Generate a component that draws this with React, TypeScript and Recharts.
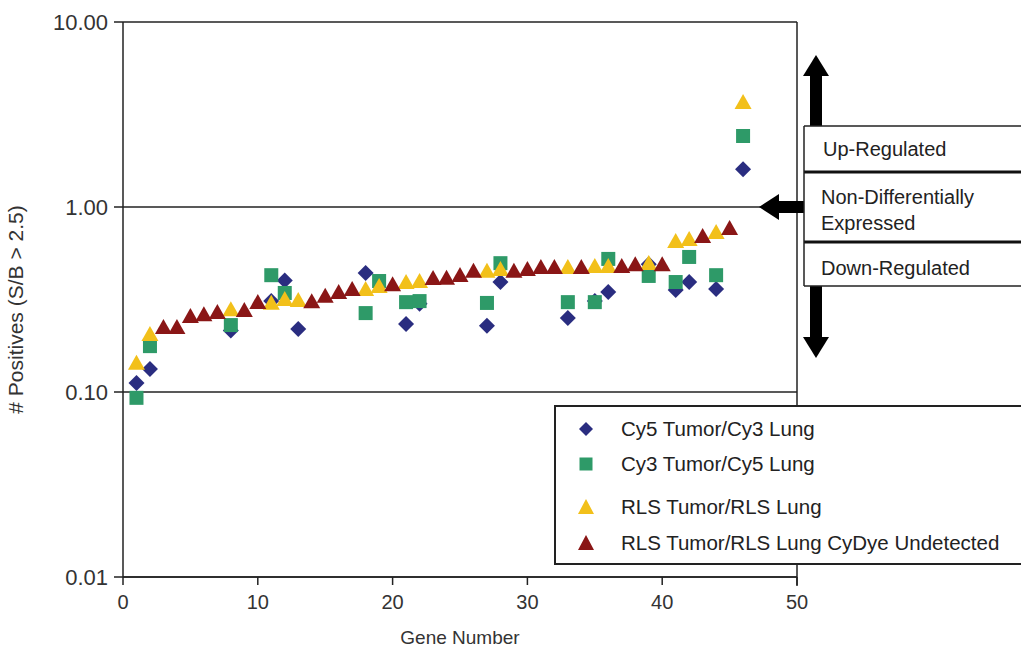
import {
  ScatterChart,
  Scatter,
  XAxis,
  YAxis,
  CartesianGrid,
  ReferenceLine,
  Label,
} from 'recharts'

// gene number / value per series
const cy5Genes = [1, 2, 8, 11, 12, 13, 18, 21, 22, 27, 28, 33, 35, 36, 39, 41, 42, 44, 46]
const cy5Values = [0.112, 0.133, 0.215, 0.31, 0.4, 0.219, 0.44, 0.233, 0.3, 0.228, 0.393, 0.251, 0.31, 0.347, 0.49, 0.356, 0.393, 0.36, 1.6]

const cy3Genes = [1, 2, 8, 11, 12, 18, 19, 21, 22, 27, 28, 33, 35, 36, 39, 41, 42, 44, 46]
const cy3Values = [0.093, 0.177, 0.23, 0.428, 0.343, 0.267, 0.398, 0.306, 0.31, 0.303, 0.497, 0.306, 0.306, 0.524, 0.424, 0.393, 0.537, 0.428, 2.42]

const rlsGenes = [1, 2, 8, 11, 12, 13, 18, 19, 21, 22, 27, 28, 33, 35, 36, 39, 41, 42, 44, 46]
const rlsValues = [0.142, 0.203, 0.277, 0.3, 0.314, 0.31, 0.356, 0.37, 0.388, 0.393, 0.446, 0.456, 0.468, 0.474, 0.474, 0.492, 0.647, 0.664, 0.723, 3.65]

const undetGenes = [3, 4, 5, 6, 7, 9, 10, 14, 15, 16, 17, 20, 23, 24, 25, 26, 29, 30, 31, 32, 34, 37, 38, 40, 43, 45]
const undetValues = [0.222, 0.222, 0.254, 0.26, 0.267, 0.274, 0.303, 0.306, 0.327, 0.343, 0.356, 0.378, 0.408, 0.41, 0.424, 0.446, 0.446, 0.456, 0.468, 0.468, 0.468, 0.474, 0.485, 0.485, 0.689, 0.76]

const xTicks = [0, 10, 20, 30, 40, 50]
const yTicks = [0.01, 0.1, 1, 10]

const NAVY = '#2a2d80'
const GREEN = '#2e9a68'
const YELLOW = '#f2c01a'
const DARKRED = '#8a1616'
const FONT = '"Liberation Sans", Arial, sans-serif'

const toPoints = (xs: number[], ys: number[]) => xs.map((x, i) => ({ gene: x, value: ys[i] }))

const Diamond = ({ cx, cy, fill }: any) => (
  <path d={`M${cx},${cy - 8}L${cx + 8},${cy}L${cx},${cy + 8}L${cx - 8},${cy}Z`} fill={fill} />
)
const Square = ({ cx, cy, fill }: any) => <rect x={cx - 7} y={cy - 7} width={14} height={14} fill={fill} />
const Triangle = ({ cx, cy, fill }: any) => (
  <path d={`M${cx},${cy - 9}L${cx + 8.5},${cy + 6}L${cx - 8.5},${cy + 6}Z`} fill={fill} />
)

const legendItems = [
  { name: 'Cy5 Tumor/Cy3 Lung', color: NAVY, kind: 'diamond', y: 429 },
  { name: 'Cy3 Tumor/Cy5 Lung', color: GREEN, kind: 'square', y: 464 },
  { name: 'RLS Tumor/RLS Lung', color: YELLOW, kind: 'triangle', y: 507 },
  { name: 'RLS Tumor/RLS Lung CyDye Undetected', color: DARKRED, kind: 'triangle', y: 543 },
]

function LegendMarker({ kind, color }: { kind: string; color: string }) {
  return (
    <svg width={20} height={20} style={{ position: 'absolute', left: 20, top: -10 }}>
      {kind === 'diamond' && <path d="M10,3L17,10L10,17L3,10Z" fill={color} />}
      {kind === 'square' && <rect x={3.5} y={3.5} width={13} height={13} fill={color} />}
      {kind === 'triangle' && <path d="M10,2L18,17L2,17Z" fill={color} />}
    </svg>
  )
}

export default function App() {
  return (
    <div style={{ position: 'absolute', left: 0, top: 0, width: 1021, height: 647, background: '#fff', fontFamily: FONT, overflow: 'hidden' }}>
      <ScatterChart width={1021} height={647} margin={{ top: 22, right: 224, bottom: 30, left: 0 }}>
        <CartesianGrid horizontal vertical={false} stroke="#222" strokeWidth={1.5} />
        <XAxis
          type="number"
          dataKey="gene"
          domain={[0, 50]}
          ticks={xTicks}
          allowDataOverflow
          height={40}
          tickSize={8}
          tickMargin={10}
          stroke="#222"
          strokeWidth={1.5}
          tick={{ fill: '#333', fontSize: 20, fontFamily: FONT }}
        >
          <Label value="Gene Number" position="insideBottom" offset={-27} fill="#333" fontSize={19} fontFamily={FONT} />
        </XAxis>
        <YAxis
          type="number"
          dataKey="value"
          scale="log"
          domain={[0.01, 10]}
          ticks={yTicks}
          allowDataOverflow
          width={123}
          tickSize={9}
          tickMargin={6}
          stroke="#222"
          strokeWidth={1.5}
          tickFormatter={(v: number) => v.toFixed(2)}
          tick={{ fill: '#333', fontSize: 22, fontFamily: FONT }}
        >
          <Label
            value="# Positives (S/B > 2.5)"
            angle={-90}
            position="insideLeft"
            offset={16}
            dy={10}
            style={{ textAnchor: 'middle' }}
            fill="#333"
            fontSize={21}
            fontFamily={FONT}
          />
        </YAxis>
        <ReferenceLine x={50} stroke="#222" strokeWidth={1.5} />
        <Scatter data={toPoints(cy5Genes, cy5Values)} fill={NAVY} shape={Diamond} isAnimationActive={false} />
        <Scatter data={toPoints(cy3Genes, cy3Values)} fill={GREEN} shape={Square} isAnimationActive={false} />
        <Scatter data={toPoints(rlsGenes, rlsValues)} fill={YELLOW} shape={Triangle} isAnimationActive={false} />
        <Scatter data={toPoints(undetGenes, undetValues)} fill={DARKRED} shape={Triangle} isAnimationActive={false} />
      </ScatterChart>

      {/* arrows and regulation boxes */}
      <svg width={1021} height={647} style={{ position: 'absolute', left: 0, top: 0, pointerEvents: 'none' }}>
        <line x1={797} y1={577} x2={797} y2={586} stroke="#222" strokeWidth={1.5} />
        <rect x={810} y={72} width={12} height={270} fill="#000" />
        <path d="M816,55L829,76L803,76Z" fill="#000" />
        <path d="M816,358L829,337L803,337Z" fill="#000" />
        <rect x={776} y={201} width={30} height={12} fill="#000" />
        <path d="M759,207L779,194L779,220Z" fill="#000" />
        <rect x={804} y={126} width={230} height={160} fill="#fff" />
        <line x1={804} y1={126} x2={1021} y2={126} stroke="#222" strokeWidth={1.5} />
        <line x1={804} y1={172} x2={1021} y2={172} stroke="#111" strokeWidth={3} />
        <line x1={804} y1={242} x2={1021} y2={242} stroke="#111" strokeWidth={3} />
        <line x1={804} y1={286} x2={1021} y2={286} stroke="#222" strokeWidth={1.5} />
        <line x1={804} y1={126} x2={804} y2={286} stroke="#222" strokeWidth={1.5} />
      </svg>
      <div style={{ position: 'absolute', left: 823, top: 137, fontSize: 20, color: '#222', lineHeight: '24px' }}>Up-Regulated</div>
      <div style={{ position: 'absolute', left: 821, top: 184, fontSize: 20, color: '#222', lineHeight: '26px' }}>
        Non-Differentially
        <br />
        Expressed
      </div>
      <div style={{ position: 'absolute', left: 821, top: 256, fontSize: 20, color: '#222', lineHeight: '24px' }}>Down-Regulated</div>

      {/* legend */}
      <div
        style={{
          position: 'absolute',
          left: 554,
          top: 405,
          width: 480,
          height: 156,
          border: '2px solid #222',
          background: '#fff',
        }}
      >
        {legendItems.map((item) => (
          <div key={item.name} style={{ position: 'absolute', left: 0, top: item.y - 407, width: 470 }}>
            <LegendMarker kind={item.kind} color={item.color} />
            <span
              style={{
                position: 'absolute',
                left: 65,
                top: -12,
                fontSize: 20.5,
                lineHeight: '24px',
                color: '#222',
                whiteSpace: 'nowrap',
              }}
            >
              {item.name}
            </span>
          </div>
        ))}
      </div>
    </div>
  )
}
